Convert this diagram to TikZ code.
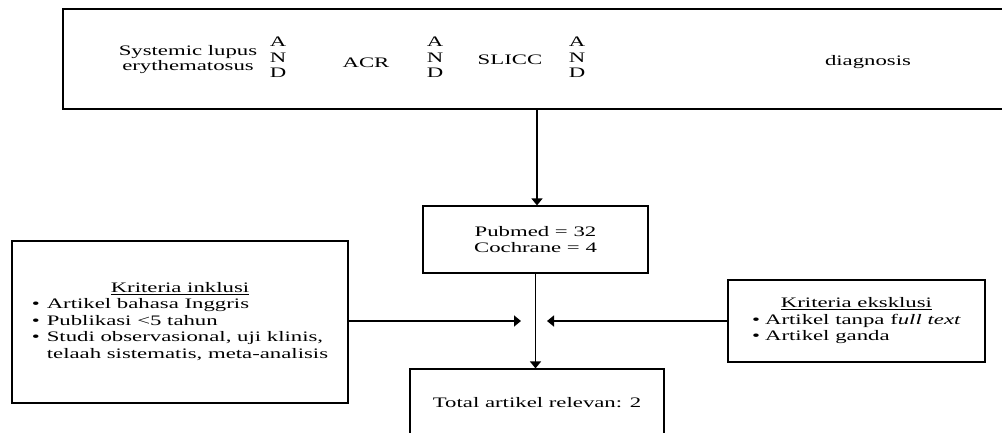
\documentclass[tikz,border=0pt]{standalone}
\usepackage{fontspec}
\setmainfont{Liberation Serif}[FakeStretch=1.57,
  ItalicFont=Liberation Serif Italic, BoldFont=Liberation Serif Bold]
\usetikzlibrary{arrows.meta}

\tikzset{
  box/.style={draw, line width=1.2pt, inner sep=0pt, align=center},
  flow/.style={line width=1.6pt, -{Triangle[width=11pt,length=7pt]}},
  term/.style={inner sep=0pt, align=center, font=\fontsize{14.5}{15.5}\selectfont},
}

\begin{document}
\begin{tikzpicture}[x=1pt, y=-1pt, font=\fontsize{14.5}{16.5}\selectfont]
\useasboundingbox (0,0) rectangle (1002,432);
\clip (0,0) rectangle (1002,432);
% search terms
\node[box, minimum width=950pt, minimum height=100pt] (query) at (538,59) {};
\node[term] (sle) at (188,59.5) {Systemic lupus\\erythematosus};
\node[term] (and1) at (278,57.5) {A\\N\\D};
\node[term] (acr) at (366,63) {ACR};
\node[term] (and2) at (435,57.5) {A\\N\\D};
\node[term] (slicc) at (510,60) {SLICC};
\node[term] (and3) at (577,57.5) {A\\N\\D};
\node[term] (dx) at (868,62) {diagnosis};
% databases and result
\node[box, minimum width=225pt, minimum height=67pt] (db) at (535.5,239.5) {Pubmed = 32\\Cochrane = 4};
\node[box, minimum width=254pt, minimum height=68pt] (total) at (537,403) {Total artikel relevan: 2};
% criteria
\node[box, minimum width=336pt, minimum height=162pt] (incl) at (180,322) {%
  \begin{tabular}{@{}l@{\hspace{7pt}}l@{}}
  \multicolumn{2}{c}{\underline{Kriteria inklusi}}\\
  \textbullet & Artikel bahasa Inggris\\
  \textbullet & Publikasi <5 tahun\\
  \textbullet & Studi observasional, uji klinis,\\
              & telaah sistematis, meta-analisis
  \end{tabular}};
\node[box, minimum width=257pt, minimum height=82pt] (excl) at (856.5,321) {%
  \begin{tabular}{@{}l@{\hspace{5pt}}l@{}}
  \multicolumn{2}{c}{\underline{Kriteria eksklusi}}\\
  \textbullet & Artikel tanpa f\textit{ull text}\\
  \textbullet & Artikel ganda
  \end{tabular}};
\coordinate (inend) at (521,321);
\coordinate (exend) at (547,321);
% connectors
\draw[flow] (query.south -| 537,0) -- (db.north -| 537,0);
\draw[flow] (db.south) -- (db.south |- total.north);
\draw[flow] (incl.east |- inend) -- (inend);
\draw[flow] (excl.west |- exend) -- (exend);
\end{tikzpicture}
\end{document}
